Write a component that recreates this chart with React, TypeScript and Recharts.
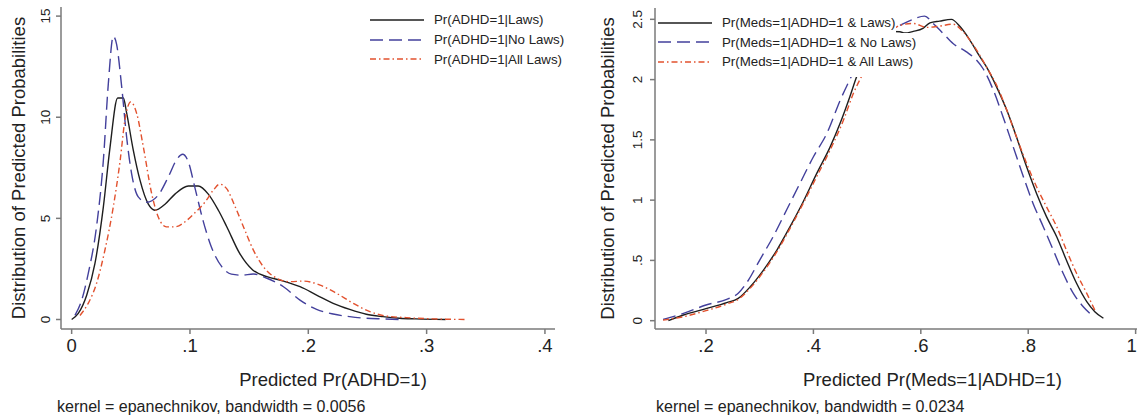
import React from 'react';
import { LineChart, Line, XAxis, YAxis, Legend, Label } from 'recharts';

// left panel: Pr(ADHD=1)
const adhdLawsX = [0, 0.0056, 0.0127, 0.0197, 0.0268, 0.0324, 0.0389, 0.0437, 0.0465, 0.052, 0.0577, 0.0648, 0.0704, 0.0789, 0.0873, 0.0986, 0.107, 0.1155, 0.124, 0.131, 0.142, 0.153, 0.165, 0.179, 0.193, 0.207, 0.221, 0.235, 0.249, 0.263, 0.277, 0.291, 0.316];
const adhdLawsY = [0, 0.3, 1.2, 2.77, 5.57, 8.5, 10.95, 10.95, 10.2, 8.4, 6.9, 5.7, 5.4, 5.7, 6.2, 6.6, 6.6, 6.2, 5.4, 4.6, 3.27, 2.45, 2.12, 1.9, 1.62, 1.21, 0.8, 0.5, 0.26, 0.14, 0.06, 0.03, 0];
const adhdNoLawsX = [0.0028, 0.0085, 0.014, 0.021, 0.0268, 0.031, 0.0352, 0.038, 0.0423, 0.0465, 0.0507, 0.0563, 0.0634, 0.0732, 0.0817, 0.0887, 0.0938, 0.0986, 0.104, 0.111, 0.118, 0.127, 0.135, 0.1437, 0.1535, 0.165, 0.179, 0.193, 0.207, 0.221, 0.235, 0.249, 0.263, 0.2775];
const adhdNoLawsY = [0.2, 0.96, 2.27, 4.58, 7.87, 11.66, 14.0, 13.6, 11.5, 9.0, 7.2, 6.06, 5.8, 6.15, 7.05, 7.9, 8.17, 7.8, 6.56, 4.9, 3.6, 2.6, 2.24, 2.19, 2.25, 2.04, 1.62, 0.96, 0.5, 0.27, 0.14, 0.06, 0.03, 0];
const adhdAllLawsX = [0.007, 0.014, 0.021, 0.028, 0.0352, 0.041, 0.045, 0.05, 0.055, 0.0606, 0.0676, 0.0732, 0.08, 0.0873, 0.0958, 0.104, 0.1127, 0.1197, 0.125, 0.131, 0.138, 0.1465, 0.1535, 0.162, 0.1733, 0.1845, 0.1958, 0.21, 0.224, 0.238, 0.252, 0.266, 0.283, 0.3057, 0.334];
const adhdAllLawsY = [0.2, 0.8, 1.78, 3.4, 5.57, 7.87, 9.85, 10.76, 10.18, 8.53, 6.23, 5.07, 4.58, 4.58, 4.83, 5.27, 5.8, 6.39, 6.69, 6.47, 5.6, 4.4, 3.44, 2.61, 2.04, 1.87, 1.9, 1.7, 1.29, 0.8, 0.39, 0.17, 0.09, 0.03, 0];

// right panel: Pr(Meds=1|ADHD=1)
const medsLawsX = [0.13, 0.158, 0.2, 0.2385, 0.26, 0.282, 0.307, 0.332, 0.3565, 0.381, 0.406, 0.431, 0.4497, 0.468, 0.481, 0.5, 0.52, 0.54, 0.561, 0.57, 0.586, 0.604, 0.617, 0.635, 0.657, 0.673, 0.691, 0.71, 0.722, 0.741, 0.76, 0.778, 0.797, 0.8155, 0.834, 0.853, 0.871, 0.89, 0.909, 0.924, 0.94];
const medsLawsY = [0, 0.047, 0.1, 0.15, 0.185, 0.28, 0.42, 0.586, 0.78, 0.987, 1.22, 1.44, 1.637, 1.86, 2.03, 2.2, 2.33, 2.4, 2.397, 2.386, 2.4, 2.425, 2.47, 2.485, 2.5, 2.44, 2.33, 2.19, 2.107, 1.94, 1.747, 1.526, 1.277, 1.056, 0.863, 0.697, 0.503, 0.31, 0.158, 0.075, 0.02];
const medsNoLawsX = [0.12, 0.158, 0.2, 0.2385, 0.26, 0.279, 0.3, 0.325, 0.35, 0.375, 0.4, 0.425, 0.45, 0.471, 0.49, 0.51, 0.53, 0.561, 0.58, 0.607, 0.623, 0.6416, 0.66, 0.685, 0.704, 0.716, 0.735, 0.753, 0.772, 0.791, 0.809, 0.828, 0.8466, 0.865, 0.884, 0.9025, 0.918];
const medsNoLawsY = [0.01, 0.06, 0.13, 0.177, 0.227, 0.337, 0.503, 0.697, 0.918, 1.14, 1.36, 1.554, 1.83, 2.03, 2.2, 2.33, 2.4, 2.45, 2.49, 2.527, 2.466, 2.383, 2.3, 2.23, 2.16, 2.09, 1.913, 1.692, 1.443, 1.194, 0.973, 0.78, 0.586, 0.393, 0.227, 0.116, 0.047];
const medsAllLawsX = [0.12, 0.158, 0.2, 0.2385, 0.26, 0.282, 0.307, 0.332, 0.3565, 0.381, 0.406, 0.431, 0.456, 0.4745, 0.49, 0.51, 0.53, 0.545, 0.561, 0.586, 0.6106, 0.635, 0.66, 0.676, 0.691, 0.71, 0.722, 0.741, 0.76, 0.778, 0.797, 0.8155, 0.834, 0.853, 0.871, 0.89, 0.909, 0.924];
const medsAllLawsY = [0.005, 0.033, 0.083, 0.138, 0.177, 0.268, 0.406, 0.572, 0.766, 0.973, 1.194, 1.415, 1.664, 1.886, 2.03, 2.2, 2.33, 2.4, 2.45, 2.466, 2.433, 2.444, 2.46, 2.41, 2.33, 2.2, 2.107, 1.955, 1.747, 1.526, 1.305, 1.111, 0.945, 0.78, 0.586, 0.393, 0.227, 0.088];

const adhdXTicks = [0, 0.1, 0.2, 0.3, 0.4];
const adhdYTicks = [0, 5, 10, 15];
const medsXTicks = [0.2, 0.4, 0.6, 0.8, 1];
const medsYTicks = [0, 0.5, 1, 1.5, 2, 2.5];

const adhdNames = ['Pr(ADHD=1|Laws)', 'Pr(ADHD=1|No Laws)', 'Pr(ADHD=1|All Laws)'];
const medsNames = ['Pr(Meds=1|ADHD=1 & Laws)', 'Pr(Meds=1|ADHD=1 & No Laws)', 'Pr(Meds=1|ADHD=1 & All Laws)'];

const colors = ['#1e1e1e', '#43409c', '#e2512e'];
const dashes = ['', '13 6', '6 3 1.5 3'];
const FONT = '"Liberation Sans", Arial, Helvetica, sans-serif';
const AXIS = '#7a7a7a';

const zip = (xs: number[], ys: number[]) => xs.map((x, i) => ({ x, y: ys[i] }));
const fmt = (v: number) => (v === 0 ? '0' : String(v).replace(/^0\./, '.'));

const RotTick = (props: any) => {
  const { x, y, payload } = props;
  return (
    <text x={x} y={y} transform={`rotate(-90 ${x} ${y})`} textAnchor="middle" fontSize={13.5} fill="#222" fontFamily={FONT}>
      {fmt(payload.value)}
    </text>
  );
};

// x tick; the tick that sits on the window's right edge is nudged in so it stays readable
const makeXTick = (edgeValue: number | null) => (props: any) => {
  const { x, y, payload } = props;
  const dx = payload.value === edgeValue ? -4 : 0;
  return (
    <text x={x + dx} y={y} dy="0.71em" textAnchor="middle" fontSize={18.5} fill="#222" fontFamily={FONT}>
      {fmt(payload.value)}
    </text>
  );
};

const makeLegend = (names: string[], rowH: number, rowWidths: (number | undefined)[]) => () => (
  <div style={{ fontFamily: FONT, fontSize: 13.3, color: '#222' }}>
    {names.map((n, i) => (
      <div key={n} style={{ display: 'flex', alignItems: 'center', height: rowH, background: '#fff', width: rowWidths[i] ?? 'auto', paddingBottom: i === 2 ? 5 : 0 }}>
        <svg width={54} height={6} style={{ marginRight: 10, flex: 'none' }}>
          <line x1={0} y1={3} x2={54} y2={3} stroke={colors[i]} strokeWidth={1.4} strokeDasharray={dashes[i] || undefined} />
        </svg>
        <span style={{ whiteSpace: 'nowrap' }}>{n}</span>
      </div>
    ))}
  </div>
);

function Panel(props: {
  left: number; width: number; marginRight: number; yAxisW: number; top: number;
  series: { x: number; y: number }[][]; names: string[];
  xDomain: number[]; yDomain: number[]; xTicks: number[]; yTicks: number[]; edgeTick: number | null;
  xLabel: string; xLabelDx: number; yTitleOff: number; yTickMargin: number;
  legendPos: { left: number; top: number }; legendRowH: number; legendWidths: (number | undefined)[];
}) {
  const p = props;
  const XTick = makeXTick(p.edgeTick);
  return (
    <div style={{ position: 'absolute', left: p.left, top: 0 }}>
      <LineChart width={p.width} height={419} margin={{ top: p.top, right: p.marginRight, bottom: 0, left: 0 }}>
        <XAxis
          dataKey="x" type="number" domain={p.xDomain} ticks={p.xTicks} allowDataOverflow
          tickSize={5} tickMargin={5} height={90}
          stroke={AXIS} strokeWidth={1.5}
          tick={<XTick />}
        >
          <Label
            content={(lp: any) => {
              const vb = lp.viewBox;
              return (
                <text x={vb.x + vb.width / 2 + p.xLabelDx} y={vb.y + 50} textAnchor="middle" dominantBaseline="central" fontSize={18.5} fill="#222" fontFamily={FONT}>
                  {p.xLabel}
                </text>
              );
            }}
          />
        </XAxis>
        <YAxis
          type="number" domain={p.yDomain} ticks={p.yTicks} allowDataOverflow width={p.yAxisW}
          tickSize={5} tickMargin={p.yTickMargin} stroke={AXIS} strokeWidth={1.5} tick={<RotTick />}
        >
          <Label
            content={(lp: any) => {
              const vb = lp.viewBox;
              const cx = vb.x + vb.width - p.yTitleOff;
              const cy = vb.y + vb.height / 2;
              return (
                <text x={cx} y={cy} transform={`rotate(-90 ${cx} ${cy})`} textAnchor="middle" dominantBaseline="central" fontSize={18.5} fill="#222" fontFamily={FONT}>
                  Distribution of Predicted Probabilities
                </text>
              );
            }}
          />
        </YAxis>
        {p.series.map((d, i) => (
          <Line
            key={p.names[i]} data={d} dataKey="y" name={p.names[i]} type="monotone"
            stroke={colors[i]} strokeWidth={1.4} strokeDasharray={dashes[i] || undefined}
            dot={false} activeDot={false} isAnimationActive={false}
          />
        ))}
        <Legend
          layout="vertical" align="center" verticalAlign="middle"
          content={makeLegend(p.names, p.legendRowH, p.legendWidths)}
          wrapperStyle={{ left: p.legendPos.left, top: p.legendPos.top, width: 'auto' }}
        />
      </LineChart>
    </div>
  );
}

export default function App() {
  return (
    <div style={{ position: 'absolute', left: 0, top: 0, width: 1137, height: 419, overflow: 'hidden', background: '#fff' }}>
      <Panel
        left={0} width={570} marginRight={15} yAxisW={61} top={7}
        series={[zip(adhdLawsX, adhdLawsY), zip(adhdNoLawsX, adhdNoLawsY), zip(adhdAllLawsX, adhdAllLawsY)]}
        names={adhdNames}
        xDomain={[-0.009, 0.4085]} yDomain={[-0.47, 15.45]} xTicks={adhdXTicks} yTicks={adhdYTicks} edgeTick={null}
        xLabel="Predicted Pr(ADHD=1)" xLabelDx={25} yTitleOff={43} yTickMargin={6}
        legendPos={{ left: 370, top: 10 }} legendRowH={19.8} legendWidths={[undefined, undefined, undefined]}
      />
      <Panel
        left={580} width={650} marginRight={20} yAxisW={75} top={8}
        series={[zip(medsLawsX, medsLawsY), zip(medsNoLawsX, medsNoLawsY), zip(medsAllLawsX, medsAllLawsY)]}
        names={medsNames}
        xDomain={[0.105, 1.1385]} yDomain={[-0.069, 2.594]} xTicks={medsXTicks} yTicks={medsYTicks} edgeTick={1}
        xLabel="Predicted Pr(Meds=1|ADHD=1)" xLabelDx={0} yTitleOff={48} yTickMargin={8}
        legendPos={{ left: 78, top: 13 }} legendRowH={19.5} legendWidths={[238, undefined, undefined]}
      />
      <div style={{ position: 'absolute', left: 57, top: 398, fontFamily: FONT, fontSize: 16, lineHeight: '18px', color: '#222', whiteSpace: 'nowrap' }}>
        kernel = epanechnikov, bandwidth = 0.0056
      </div>
      <div style={{ position: 'absolute', left: 656, top: 398, fontFamily: FONT, fontSize: 16, lineHeight: '18px', color: '#222', whiteSpace: 'nowrap' }}>
        kernel = epanechnikov, bandwidth = 0.0234
      </div>
    </div>
  );
}
